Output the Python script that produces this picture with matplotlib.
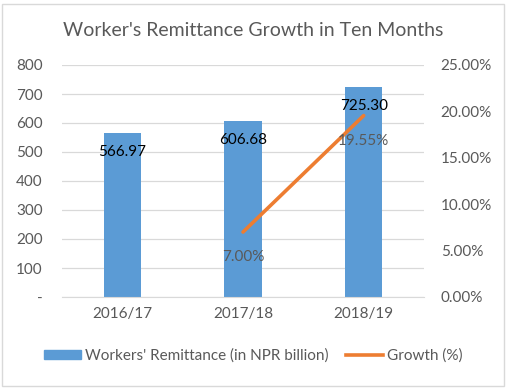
import matplotlib
matplotlib.use("Agg")
import matplotlib.pyplot as plt
from matplotlib.ticker import FuncFormatter, FixedLocator
from matplotlib.patches import Rectangle
from matplotlib.lines import Line2D

plt.rcParams['font.family'] = ['Lato', 'DejaVu Sans']

categories = ["2016/17", "2017/18", "2018/19"]
remittance = [566.97, 606.68, 725.30]
growth_cats = ["2017/18", "2018/19"]
growth = [7.00, 19.55]
left_ticks = [0, 100, 200, 300, 400, 500, 600, 700, 800]
right_ticks = [0, 5, 10, 15, 20, 25]

BAR = "#5B9BD5"
LINE = "#ED7D31"
TXT = "#595959"
GRID = "#D9D9D9"

fig = plt.figure(figsize=(5.07, 3.88), dpi=100)
W, H = 507, 388
x0, x1, ytop, ybot = 62, 424, 65, 297
ax = fig.add_axes([x0 / W, 1 - ybot / H, (x1 - x0) / W, (ybot - ytop) / H])
ax2 = ax.twinx()

xs = list(range(len(categories)))
ax.bar(xs, remittance, width=0.31, color=BAR, zorder=2)
ax.set_xlim(-0.5, len(categories) - 0.5)
ax.set_ylim(0, 800)
ax.yaxis.set_major_locator(FixedLocator(left_ticks))
ax.yaxis.set_major_formatter(FuncFormatter(lambda v, p: "-" if v == 0 else f"{v:.0f}"))
ax.grid(axis='y', color=GRID, linewidth=0.9, zorder=0)
ax.set_axisbelow(True)
ax.set_xticks(xs)
ax.set_xticklabels(categories)

gx = [categories.index(c) for c in growth_cats]
ax2.plot(gx, growth, color=LINE, linewidth=2.6, solid_capstyle='round', zorder=3)
ax2.set_ylim(0, 25)
ax2.yaxis.set_major_locator(FixedLocator(right_ticks))
ax2.yaxis.set_major_formatter(FuncFormatter(lambda v, p: f"{v:.2f}%"))

for a in (ax, ax2):
    for s in a.spines.values():
        s.set_visible(False)
    a.tick_params(length=0, colors=TXT, labelsize=11)
ax.spines['bottom'].set_visible(True)
ax.spines['bottom'].set_color(GRID)
ax.tick_params(axis='y', pad=14)
ax2.tick_params(axis='y', pad=12)
ax.tick_params(axis='x', pad=7)

for x, v in zip(xs, remittance):
    ax.annotate(f"{v:.2f}", (x, v), xytext=(0, -19), textcoords='offset pixels',
                ha='center', va='center', fontsize=11, color='black', zorder=5)
for x, v in zip(gx, growth):
    ax2.annotate(f"{v:.2f}%", (x, v), xytext=(0, -25), textcoords='offset pixels',
                 ha='center', va='center', fontsize=11, color=TXT, zorder=5)

fig.text(0.5, 1 - 30 / H, "Worker's Remittance Growth in Ten Months", ha='center', va='center',
         fontsize=14, color=TXT)

handles = [Rectangle((0, 0), 1, 1, color=BAR), Line2D([0], [0], color=LINE, linewidth=2.6)]
fig.legend(handles, ["Workers' Remittance (in NPR billion)", "Growth (%)"], loc='center',
           bbox_to_anchor=(0.5, 1 - 356 / H), ncol=2, frameon=False, fontsize=11,
           labelcolor=TXT, handlelength=2.4, handleheight=0.55, handletextpad=0.3, columnspacing=1.1)

fig.add_artist(Rectangle((2 / W, 2 / H), 1 - 5 / W, 1 - 6 / H, transform=fig.transFigure,
                         fill=False, edgecolor=GRID, linewidth=1))

fig.savefig("out.png", dpi=100)
